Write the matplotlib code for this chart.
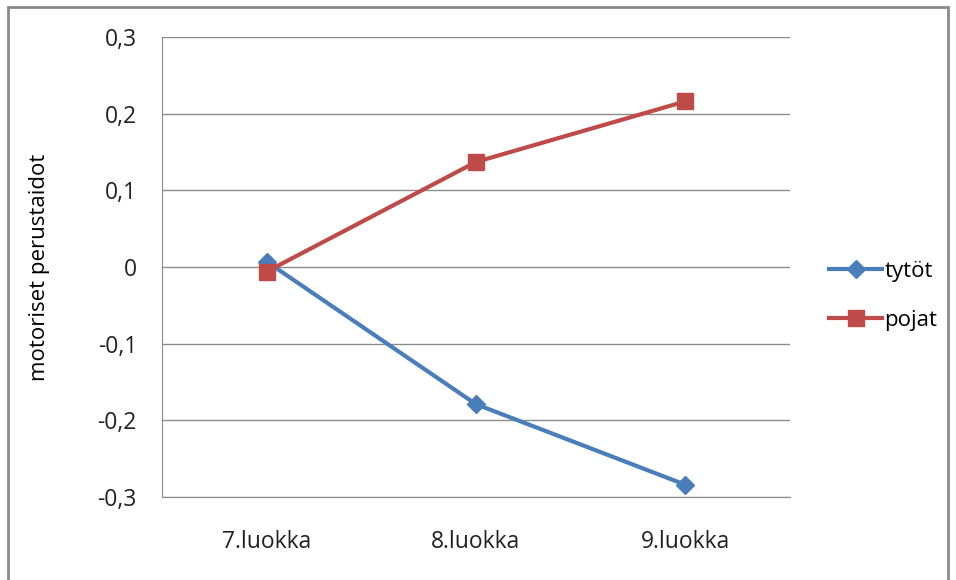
import matplotlib
matplotlib.use("Agg")
import matplotlib.pyplot as plt
import matplotlib.patches as mp

plt.rcParams.update({
    "font.family": ["Open Sans", "DejaVu Sans"],
    "font.size": 12,
})

categories = ["7.luokka", "8.luokka", "9.luokka"]
tytot = [0.007, -0.179, -0.284]
pojat = [-0.006, 0.137, 0.216]
yticks = [-0.3, -0.2, -0.1, 0, 0.1, 0.2, 0.3]
ytick_labels = ["-0,3", "-0,2", "-0,1", "0", "0,1", "0,2", "0,3"]

BLUE = "#4a7ebb"
RED = "#be4b48"
GRID = "#8c8c8c"

fig = plt.figure(figsize=(9.56, 5.8), dpi=100)
ax = fig.add_axes([162/956, 83/580, 628/956, 460/580])

x = range(len(categories))
ax.plot(x, tytot, color=BLUE, lw=3, marker="D", ms=9, label="tytöt", zorder=3)
ax.plot(x, pojat, color=RED, lw=3, marker="s", ms=12, label="pojat", zorder=4)

ax.set_xlim(-0.5, 2.5)
ax.set_ylim(-0.3, 0.3)
ax.set_yticks(yticks)
ax.set_yticklabels(ytick_labels)
ax.set_xticks(list(x))
ax.set_xticklabels(categories)
ax.tick_params(length=0, labelsize=16.5, colors="#222222")
ax.tick_params(axis="y", pad=18)
ax.tick_params(axis="x", pad=24)
ax.grid(axis="y", color=GRID, lw=1)
ax.set_axisbelow(True)
for s in ["top", "right"]:
    ax.spines[s].set_visible(False)
ax.spines["left"].set_color(GRID)
ax.spines["bottom"].set_color(GRID)
ax.set_ylabel("motoriset perustaidot", fontsize=16, labelpad=34)

ax.legend(loc="center left", bbox_to_anchor=(1.03, 0.437), frameon=False,
          fontsize=16, handlelength=2.4, handletextpad=0.1, labelspacing=1.25)

# outer chart frame
fig.patches.append(mp.Rectangle((8/956, -0.05), 940/956, 1.05 - 7/580,
                                transform=fig.transFigure, fill=False,
                                edgecolor="#8a8a8a", lw=2))

fig.savefig("out.png", dpi=100)
